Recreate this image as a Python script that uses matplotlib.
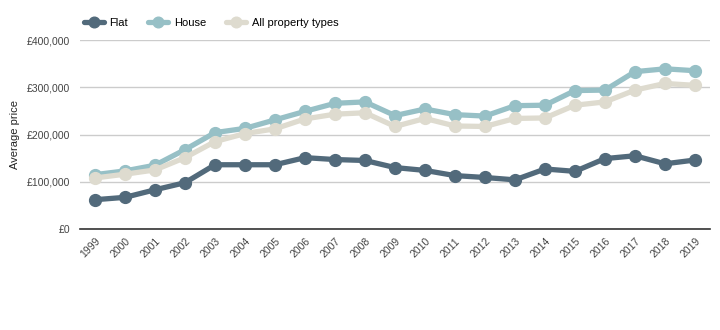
import matplotlib
matplotlib.use("Agg")
import matplotlib.pyplot as plt
from matplotlib.ticker import FuncFormatter

plt.rcParams['font.family'] = ['Liberation Sans', 'DejaVu Sans']

years = [str(y) for y in range(1999, 2020)]
flat = [62, 67, 83, 98, 136, 136, 136, 151, 147, 145, 130, 124, 113, 109, 104, 127, 122, 149, 155, 138, 146]
house = [115, 123, 135, 168, 204, 213, 231, 249, 266, 269, 240, 254, 242, 239, 261, 262, 293, 294, 333, 339, 335]
allp = [108, 116, 125, 151, 185, 202, 212, 233, 243, 246, 217, 234, 218, 217, 234, 235, 262, 269, 294, 308, 304]
series_names = ["Flat", "House", "All property types"]
colors = ["#526a7b", "#97c0c6", "#dedbcf"]

fig = plt.figure(figsize=(7.2, 3.3), dpi=100)
ax = fig.add_axes([80/720, 1-229/330, 630/720, 189/330])

x = list(range(len(years)))
handles = []
for vals, name, c, z in zip([flat, house, allp], series_names, colors, [3, 2, 2.5]):
    h, = ax.plot(x, [v * 1000 for v in vals], color=c, lw=3.8, marker='o', ms=8.5,
                 label=name, zorder=z, solid_capstyle='round')
    handles.append(h)

ax.set_xlim(-0.5, len(years) - 0.5)
ax.set_ylim(0, 400000)
ax.set_yticks([0, 100000, 200000, 300000, 400000])
ax.yaxis.set_major_formatter(FuncFormatter(lambda v, p: f"£{int(v):,}"))
ax.set_xticks(x)
ax.set_xticklabels(years, rotation=45, ha='right', va='top', rotation_mode='anchor')
ax.tick_params(axis='both', length=0, labelsize=7.5, colors='#444444')
ax.tick_params(axis='y', pad=7)
ax.tick_params(axis='x', pad=5)
ax.grid(axis='y', color='#cccccc', lw=1)
ax.set_axisbelow(True)
for s in ['top', 'right', 'left']:
    ax.spines[s].set_visible(False)
ax.spines['bottom'].set_color('#333333')
ax.spines['bottom'].set_linewidth(1.2)
ax.set_ylabel("Average price", fontsize=8, color='#222222', labelpad=5)

fig.legend(handles=handles, loc='upper left', bbox_to_anchor=(74/720, 1 - 8/330), ncol=3,
           frameon=False, fontsize=8, handlelength=1.8, columnspacing=1.8, handletextpad=0.5,
           markerscale=0.9)

fig.savefig("out.png", dpi=100)
